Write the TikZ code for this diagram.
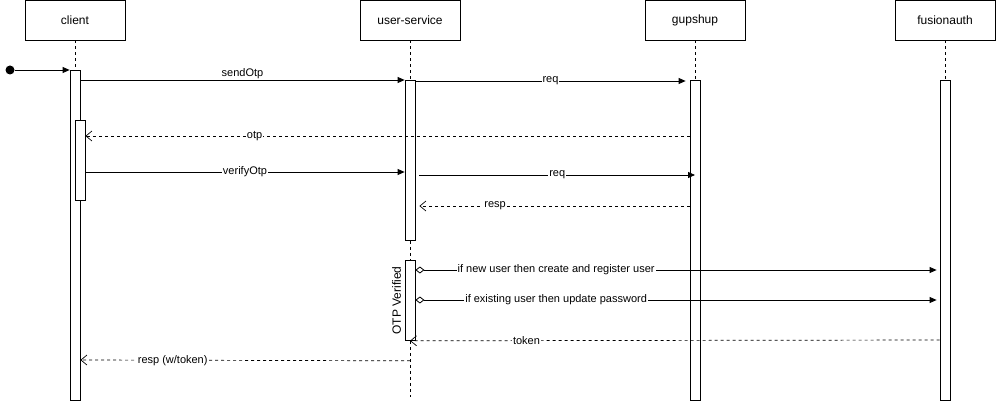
\documentclass[tikz,border=0pt]{standalone}
\usepackage{fontspec}
\setmainfont{Liberation Sans}
\usetikzlibrary{arrows.meta,positioning}
\tikzset{
	actor/.style={rectangle, draw, line width=0.8pt, minimum width=100pt, minimum height=40pt, font=\fontsize{12}{14}\selectfont},
	actbar/.style={rectangle, draw, fill=white, line width=0.8pt, minimum width=10pt, inner sep=0pt, anchor=north},
	lifeline/.style={dash pattern=on 3pt off 3pt, line width=0.7pt},
	msg/.style={-{Triangle[length=7pt,width=6pt]}, line width=0.8pt},
	reply/.style={-{Straight Barb[length=6pt,width=10pt]}, dash pattern=on 3pt off 3pt, line width=0.7pt},
	altmsg/.style={{Diamond[open,length=9pt,width=7pt]}-{Triangle[length=7pt,width=6pt]}, line width=0.8pt},
	lbl/.style={fill=white, inner sep=1pt, font=\fontsize{11}{13}\selectfont}
}
\begin{document}
\begin{tikzpicture}[x=1pt, y=-1pt]
		\useasboundingbox (0,0) rectangle (996,401);
		\node[actor] at (75,20) (client)    {client};
		\node[actor] at (410,20) (us)    {user-service};
		\node[actor] at (695,20) (gup)    {gupshup};
		\node[actor] at (945,20) (fa)    {fusionauth};
		
		\node[actbar, minimum height=330pt] at (75,70) (cbar)    {};
		\node[actbar, minimum height=80pt] at (80,120) (cbar2)    {};
		\node[actbar, minimum height=160pt] at (410,80) (usbar)    {};
		\node[actbar, minimum height=80pt] at (410,260) (usbar2)    {};
		\node[actbar, minimum height=320pt] at (695,80) (gbar)    {};
		\node[actbar, minimum height=320pt] at (945,80) (fbar)    {};
		\node[circle, fill, inner sep=0pt, minimum size=9pt] at (10,70) (start)    {};
		\coordinate (usend) at (410,397);
		\node[rotate=90, anchor=south, font=\fontsize{12}{14}\selectfont] at (usbar2.west) (otpv) {OTP Verified};
		
		%Lifelines
		\draw[lifeline] (client.south) -- (cbar.north);
		\draw[lifeline] (us.south) -- (usbar.north);
		\draw[lifeline] (usbar.south) -- (usbar2.north);
		\draw[lifeline] (usbar2.south) -- (usend);
		\draw[lifeline] (gup.south) -- (gbar.north);
		\draw[lifeline] (fa.south) -- (fbar.north);
		
		%Messages
		\draw[msg] (start) -- (cbar.north west);
		\draw[msg] ([yshift=-10pt]cbar.north east) -- (usbar.north west) node[midway, above, lbl, fill=none] {sendOtp};
		\draw[msg] ([yshift=-1pt]usbar.north east) -- ([xshift=-4pt,yshift=-1pt]gbar.north west) node[midway, lbl] {req};
		\draw[reply] ([yshift=-56pt]gbar.north west) -- ([yshift=-16pt]cbar2.north east) node[pos=0.72, lbl] {otp};
		\draw[msg] ([yshift=-52pt]cbar2.north east) -- ([yshift=-92pt]usbar.north west) node[midway, lbl] {verifyOtp};
		\draw[msg] ([xshift=4pt,yshift=-95pt]usbar.north east) -- ([yshift=-95pt]gbar.north) node[midway, lbl] {req};
		\draw[reply] ([yshift=-126pt]gbar.north west) -- ([xshift=4pt,yshift=-126pt]usbar.north east) node[pos=0.72, lbl] {resp};
		\draw[altmsg] ([yshift=-10pt]usbar2.north east) -- ([xshift=-3pt,yshift=-190pt]fbar.north west) node[pos=0.27, lbl] {if new user then create and register user};
		\draw[altmsg] ([yshift=-40pt]usbar2.north east) -- ([xshift=-3pt,yshift=-220pt]fbar.north west) node[pos=0.27, lbl] {if existing user then update password};
		\draw[reply] ([yshift=-260pt]fbar.north west) -- (usbar2.south) node[pos=0.78, lbl] {token};
		\draw[reply] ([yshift=-20pt]usbar2.south) -- ([yshift=-290pt]cbar.north east) node[pos=0.72, lbl] {resp (w/token)};
	\end{tikzpicture}
\end{document}
